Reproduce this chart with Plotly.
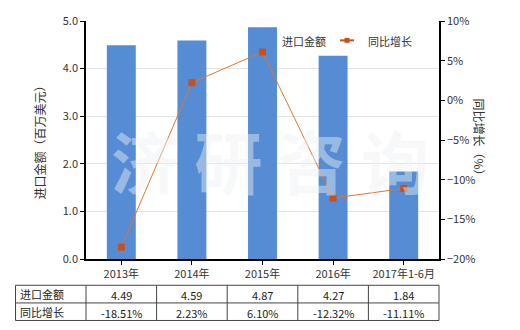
import plotly.graph_objects as go

categories = ["2013年", "2014年", "2015年", "2016年", "2017年1-6月"]
import_values = [4.49, 4.59, 4.87, 4.27, 1.84]
growth_values = [-18.51, 2.23, 6.10, -12.32, -11.11]
import_labels = ["4.49", "4.59", "4.87", "4.27", "1.84"]
growth_labels = ["-18.51%", "2.23%", "6.10%", "-12.32%", "-11.11%"]
row_names = ["进口金额", "同比增长"]

FONT = "Noto Sans CJK SC"
W, H = 520, 330
L, R, T, B = 86, 439, 19, 259
pw, ph = R - L, B - T

def px(x):
    return (x - L) / pw

def py(y):
    return (B - y) / ph

fig = go.Figure()
fig.add_trace(go.Bar(x=categories, y=import_values, name="进口金额",
                     marker=dict(color="#558CD4", line=dict(width=0)),
                     yaxis="y", showlegend=False))
fig.add_trace(go.Scatter(x=categories, y=growth_values, name="同比增长",
                         mode="lines+markers", yaxis="y2",
                         line=dict(color="#E0762E", width=1),
                         marker=dict(symbol="square", size=7, color="#C9501A"),
                         showlegend=False))

shapes = []
annotations = []

# watermark
annotations.append(dict(text="<b>济 研 咨 询</b>", x=0.52, y=0.42, xref="paper", yref="paper",
                        showarrow=False,
                        font=dict(family=FONT, size=68, color="rgba(236,240,244,0.45)")))

# legend (manual)
annotations.append(dict(text="进口金额", x=px(280), y=py(39), xref="paper", yref="paper",
                        xanchor="left", yanchor="middle", showarrow=False,
                        font=dict(family=FONT, size=11, color="#333")))
shapes.append(dict(type="line", xref="paper", yref="paper", x0=px(340), x1=px(354),
                   y0=py(38.5), y1=py(38.5), line=dict(color="#C9501A", width=2)))
shapes.append(dict(type="rect", xref="paper", yref="paper", x0=px(344.5), x1=px(349.5),
                   y0=py(41), y1=py(36), fillcolor="#C9501A", line=dict(width=0)))
annotations.append(dict(text="同比增长", x=px(366), y=py(39), xref="paper", yref="paper",
                        xanchor="left", yanchor="middle", showarrow=False,
                        font=dict(family=FONT, size=11, color="#333")))

# axis titles
annotations.append(dict(text="进口金额（百万美元）", x=px(28), y=py(139), xref="paper", yref="paper",
                        textangle=-90, showarrow=False, font=dict(family=FONT, size=12, color="#333")))
annotations.append(dict(text="同比增长（%）", x=px(490), y=py(139), xref="paper", yref="paper",
                        textangle=90, showarrow=False, font=dict(family=FONT, size=12, color="#333")))

# table
tx0, tx1 = 15.5, 439
ty = [285.5, 303.3, 321]
for yv in ty:
    shapes.append(dict(type="line", xref="paper", yref="paper", x0=px(tx0), x1=px(tx1),
                       y0=py(yv), y1=py(yv), line=dict(color="#444", width=1)))
cw = pw / len(categories)
cols = [tx0] + [L + i * cw for i in range(len(categories) + 1)]
for xv in cols:
    shapes.append(dict(type="line", xref="paper", yref="paper", x0=px(xv), x1=px(xv),
                       y0=py(ty[0]), y1=py(ty[2]), line=dict(color="#444", width=1)))
for r, name in enumerate(row_names):
    annotations.append(dict(text=name, x=px(18), y=py((ty[r] + ty[r + 1]) / 2), xref="paper", yref="paper",
                            xanchor="left", yanchor="middle", showarrow=False,
                            font=dict(family=FONT, size=11, color="#222")))
for i, cat in enumerate(categories):
    for r, lab in enumerate([import_labels[i], growth_labels[i]]):
        annotations.append(dict(text=lab, x=cat, y=py((ty[r] + ty[r + 1]) / 2 + 1), xref="x", yref="paper",
                                xanchor="center", yanchor="middle", showarrow=False,
                                font=dict(family=FONT, size=11, color="#222")))

fig.update_layout(
    width=W, height=H,
    margin=dict(l=L, r=W - R, t=T, b=H - B),
    paper_bgcolor="white", plot_bgcolor="white",
    bargap=0.59,
    font=dict(family=FONT, size=11, color="#333"),
    xaxis=dict(showline=True, linecolor="#000", linewidth=1.5, ticks="outside", ticklen=4,
               tickcolor="#000", tickfont=dict(family=FONT, size=11, color="#333"),
               showgrid=False, fixedrange=True),
    yaxis=dict(range=[0, 5], dtick=1, tickformat=".1f", showline=True, linecolor="#000", linewidth=1.5,
               ticks="outside", ticklen=4, tickcolor="#000", showgrid=True, gridcolor="#e3e3e3",
               zeroline=False, tickfont=dict(family=FONT, size=11, color="#333")),
    yaxis2=dict(range=[-20, 10], dtick=5, ticksuffix="%", overlaying="y", side="right",
                showline=True, linecolor="#000", linewidth=1.5, ticks="outside", ticklen=4,
                tickcolor="#000", showgrid=False, zeroline=False,
                tickfont=dict(family=FONT, size=11, color="#333")),
    shapes=shapes, annotations=annotations,
)

fig.write_html("out.html")
